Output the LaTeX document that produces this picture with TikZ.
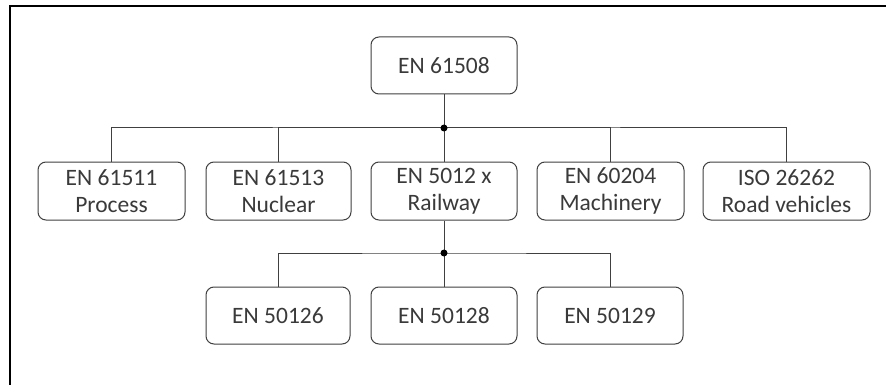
\documentclass[tikz,border=0pt]{standalone}
\usepackage{fontspec}
\setmainfont{Carlito}
\definecolor{linegray}{HTML}{404040}
\definecolor{textgray}{HTML}{3A3A3A}
\begin{document}
\begin{tikzpicture}[x=1pt,y=-1pt,
  box/.style={draw=linegray, line width=1pt, rounded corners=8pt, inner sep=0pt,
    align=center, text=textgray, font=\fontsize{23.5}{27}\selectfont, minimum height=57pt},
  conn/.style={draw=linegray, line width=1pt},
  jdot/.style={circle, fill=black, inner sep=0pt, minimum size=7pt}]
\useasboundingbox (0,0) rectangle (886,385);
\fill[white] (0,0) rectangle (886,385);
\draw[line width=2pt, black] (10,386) -- (10,6) -- (887,6);

\node[box, minimum width=146pt] (top) at (444,65.5) {EN 61508};

\node[box, minimum width=147pt, minimum height=58pt] (p) at (111.5,191) {EN 61511\\Process};
\node[box, minimum width=145pt, minimum height=58pt] (n) at (278.5,191) {EN 61513\\Nuclear};
\node[box, minimum width=146pt, minimum height=58pt] (r) at (444,191) {EN 5012 x\\Railway};
\node[box, minimum width=147pt, minimum height=58pt] (m) at (610.5,191) {EN 60204\\Machinery};
\node[box, minimum width=167pt, minimum height=58pt] (v) at (786.5,191) {ISO 26262\\Road vehicles};

\node[box, minimum width=144pt] (b6) at (278,315.5) {EN 50126};
\node[box, minimum width=146pt] (b8) at (444,315.5) {EN 50128};
\node[box, minimum width=146pt] (b9) at (610,315.5) {EN 50129};

\coordinate (j1) at (444,128);
\coordinate (j2) at (444,253);

\draw[conn] (top.south) -- (j1);
\draw[conn] (p.north) |- (j1) -| (v.north);
\draw[conn] (n.north) |- (j1);
\draw[conn] (m.north) |- (j1);
\draw[conn] (j1) -- (r.north);

\draw[conn] (r.south) -- (j2);
\draw[conn] (b6.north) |- (j2) -| (b9.north);
\draw[conn] (j2) -- (b8.north);

\node[jdot] (d1) at (j1) {};
\node[jdot] (d2) at (j2) {};
\end{tikzpicture}
\end{document}
